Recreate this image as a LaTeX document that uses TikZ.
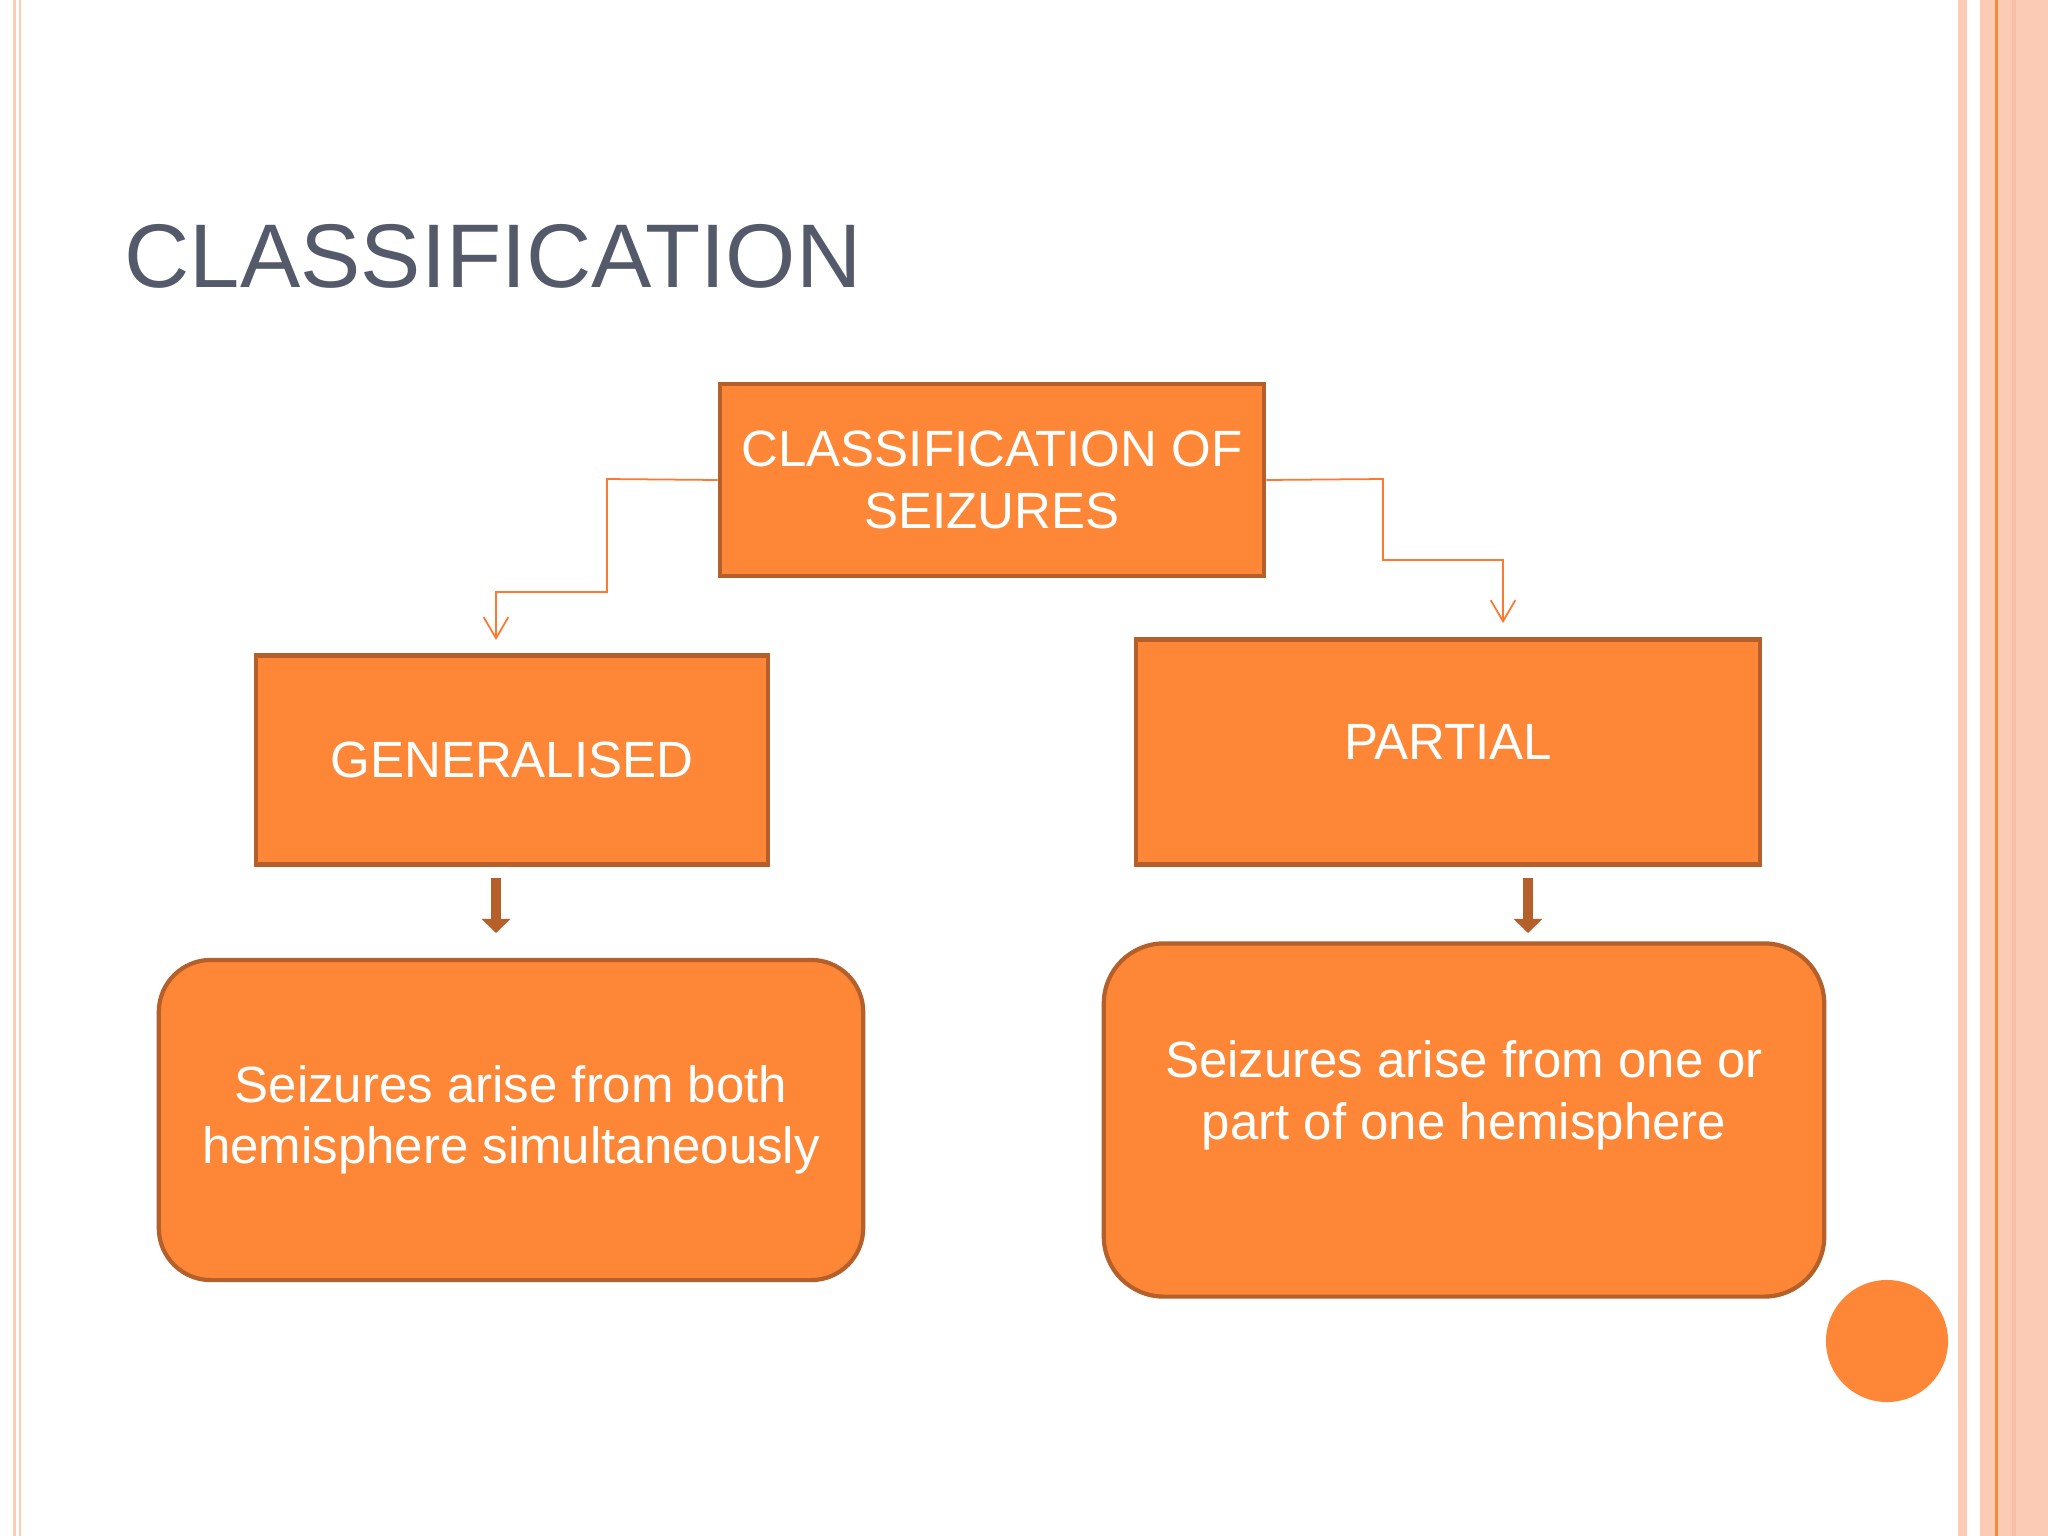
\documentclass[tikz,border=0pt]{standalone}
\usepackage{fontspec}
\setmainfont{Liberation Sans}
\usetikzlibrary{arrows.meta}
\definecolor{org}{HTML}{FD8737}
\definecolor{brd}{HTML}{B5602A}
\definecolor{ttl}{HTML}{545A6A}
\definecolor{pch}{HTML}{FBCBB5}
\definecolor{pch2}{HTML}{F9BFA5}
\tikzset{
 box/.style={draw=brd,line width=1.2pt,fill=org,text=white,align=center,font=\fontsize{14.5}{17.4}\selectfont},
 conn/.style={draw=org!90!red,line width=0.5pt,-{Straight Barb[length=6pt,width=7pt]}},
 thick arrow/.style={draw=brd,line width=2.6pt,-{Triangle[length=4pt,width=8pt]}}
}
\begin{document}
\begin{tikzpicture}[x=0.01cm,y=-0.01cm]
\useasboundingbox (0,0) rectangle (2048,1536);
\fill[white] (0,0) rectangle (2048,1536);
\fill[pch] (13,0) rectangle (16,1536);
\fill[pch] (19,0) rectangle (21,1536);
\fill[pch] (1958,0) rectangle (1967,1536);
\fill[pch] (1980,0) rectangle (2048,1536);
\fill[pch2] (2012,0) rectangle (2016,1536);
\fill[org] (1995,0) rectangle (1998,1536);
\node[anchor=base west,text=ttl,font=\fontsize{25.7}{30}\selectfont,inner sep=0] (title) at (124,287) {CLASSIFICATION};
\node[box,minimum width=5.44cm,minimum height=1.92cm] (top) at (992,480) {CLASSIFICATION OF\\SEIZURES};
\node[box,minimum width=5.12cm,minimum height=2.09cm] (gen) at (512,760) {GENERALISED};
\node[box,minimum width=6.24cm,minimum height=2.25cm,text depth=0.2cm] (par) at (1448,752) {PARTIAL};
\node[box,rounded corners=0.52cm,minimum width=7.04cm,minimum height=3.2cm] (gd) at (511,1120) {Seizures arise from both\\hemisphere simultaneously};
\node[box,rounded corners=0.6cm,minimum width=7.2cm,minimum height=3.53cm,text depth=0.6cm] (pd) at (1464,1120) {Seizures arise from one or\\part of one hemisphere};
\fill[org] (1887,1341) circle[radius=0.61cm];
\coordinate (g1) at (496,640);
\coordinate (p1) at (1503,623);
\draw[conn] (top.west) -- (607,479) -- (607,592) -- (496,592) -- (g1);
\draw[conn] (top.east) -- (1383,479) -- (1383,560) -- (1503,560) -- (p1);
\coordinate (ga) at (496,878); \coordinate (gb) at (496,933);
\coordinate (pa) at (1528,878); \coordinate (pb) at (1528,933);
\draw[thick arrow] (ga) -- (gb);
\draw[thick arrow] (pa) -- (pb);
\end{tikzpicture}
\end{document}
